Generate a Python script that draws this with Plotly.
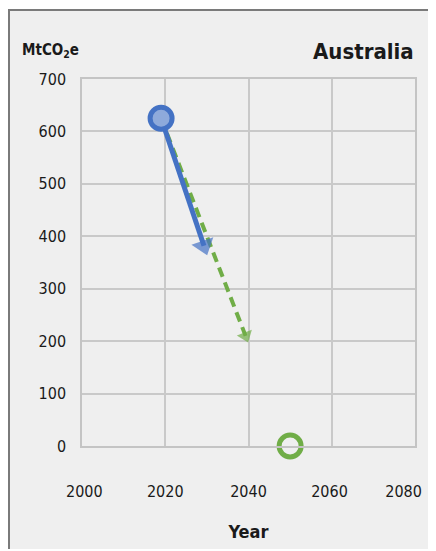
import plotly.graph_objects as go

# data
start_year = [2019]
start_value = [625]
pledge_years = [2019, 2029.3]
pledge_values = [625, 382]
path_years = [2019, 2039.3]
path_values = [625, 210]
target_year = [2050]
target_value = [0]

x_ticks = [2000, 2020, 2040, 2060, 2080]
# end labels sit inside the axis ends, as in the original
x_tick_text = ["\u00a02000", "2020", "2040", "2060\u00a0", "2080\u00a0\u00a0\u00a0\u00a0\u00a0"]
y_ticks = [0, 100, 200, 300, 400, 500, 600, 700]

BLUE = "#4472c4"
GREEN = "#70ad47"
FONT = "Liberation Sans Narrow, DejaVu Sans Condensed, Arial Narrow, sans-serif"

# plot area in figure pixels (page has an 8px body margin)
W, H = 428, 541
L, R, T, B = 74, 21, 71, 103
PW, PH = W - L - R, H - T - B

fig = go.Figure()

# green dashed path to 2040
fig.add_trace(go.Scatter(
    x=path_years, y=path_values, mode="lines+markers",
    line=dict(color=GREEN, width=4, dash="10px,6px"),
    marker=dict(symbol="triangle-up", size=[0, 14], color=GREEN, angleref="previous",
                line=dict(width=0)),
    hoverinfo="skip", showlegend=False,
))

# blue arrow to 2030
fig.add_trace(go.Scatter(
    x=pledge_years, y=pledge_values, mode="lines+markers",
    line=dict(color=BLUE, width=5),
    marker=dict(symbol="triangle-up", size=[0, 20], color=BLUE, angleref="previous",
                line=dict(width=0)),
    hoverinfo="skip", showlegend=False,
))

# current emissions point
fig.add_trace(go.Scatter(
    x=start_year, y=start_value, mode="markers",
    marker=dict(symbol="circle", size=22, color="#8eaadb",
                line=dict(color=BLUE, width=5)),
    hoverinfo="skip", showlegend=False,
))

# net zero target
fig.add_trace(go.Scatter(
    x=target_year, y=target_value, mode="markers",
    marker=dict(symbol="circle-open", size=22, color=GREEN,
                line=dict(color=GREEN, width=5)),
    cliponaxis=False, hoverinfo="skip", showlegend=False,
))

fig.update_xaxes(
    range=[2000, 2080], tickvals=x_ticks, ticktext=x_tick_text, ticks="",
    showgrid=True, gridcolor="#c9c9c9", gridwidth=1.5,
    showline=True, linecolor="#c4c4c4", linewidth=1.5, mirror=True,
    zeroline=False, tickfont=dict(family=FONT, size=16, color="#1a1a1a"),
    ticklabelstandoff=30, ticklabeloverflow="allow",
    title=dict(text="<b>Year</b>", font=dict(family=FONT, size=18, color="#1a1a1a"), standoff=25),
)
fig.update_yaxes(
    range=[0, 700], tickvals=y_ticks, ticks="",
    showgrid=True, gridcolor="#c9c9c9", gridwidth=1.5,
    showline=True, linecolor="#c4c4c4", linewidth=1.5, mirror=True,
    zeroline=False, tickfont=dict(family=FONT, size=16, color="#1a1a1a"),
    ticklabelstandoff=11,
)

fig.update_layout(
    width=W, height=H,
    margin=dict(l=L, r=R, t=T, b=B, autoexpand=False),
    paper_bgcolor="white", plot_bgcolor="white",
    shapes=[dict(type="rect", xref="paper", yref="paper", layer="below",
                 x0=(1 - L) / PW, x1=1 + (R - 1) / PW,
                 y0=-(B + 10) / PH, y1=1 + (T - 2) / PH,
                 fillcolor="#efefef", line=dict(color="#7a7a7a", width=2))],
    annotations=[
        dict(text="<b>MtCO<sub>2</sub>e</b>", xref="paper", yref="paper",
             x=(12 - L) / PW, y=1 + (T - 42) / PH, xanchor="left", yanchor="middle",
             showarrow=False, font=dict(family=FONT, size=15, color="#1a1a1a")),
        dict(text="<b>Australia</b>", xref="paper", yref="paper",
             x=1 + 1 / PW, y=1 + (T - 44) / PH, xanchor="right", yanchor="middle",
             showarrow=False, font=dict(family=FONT, size=22, color="#1a1a1a")),
    ],
)

fig.write_html("out.html")
